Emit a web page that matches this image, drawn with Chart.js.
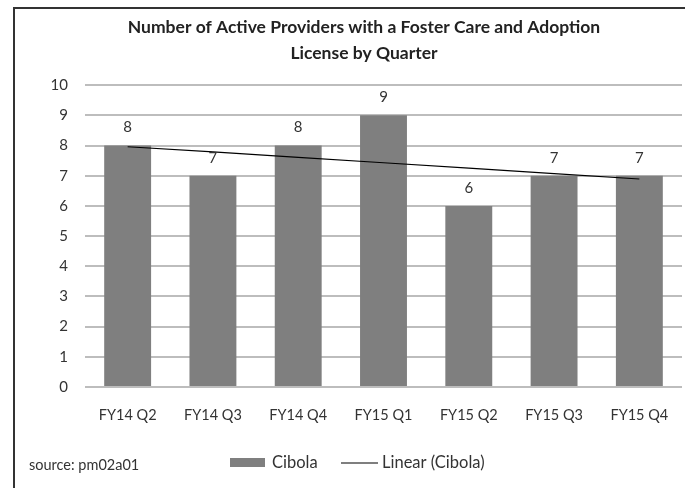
<!DOCTYPE html>
<html>
<head>
<meta charset="utf-8">
<script src="https://cdn.jsdelivr.net/npm/chart.js@4/dist/chart.umd.min.js"></script>
<style>
  html, body { margin: 0; padding: 0; background: #fff; }
  #wrap { width: 685px; height: 488px; position: relative; }
</style>
</head>
<body>
<div id="wrap"><canvas id="grafico" width="685" height="488"></canvas></div>
<script>
// dados
const quarters = ['FY14 Q2', 'FY14 Q3', 'FY14 Q4', 'FY15 Q1', 'FY15 Q2', 'FY15 Q3', 'FY15 Q4'];
const cibola = [8, 7, 8, 9, 6, 7, 7];
const linearCibola = [7.96, 7.79, 7.61, 7.43, 7.25, 7.07, 6.89];
const yTicks = [0, 1, 2, 3, 4, 5, 6, 7, 8, 9, 10];
const titulo = ['Number of Active Providers with a Foster Care and Adoption', 'License by Quarter'];
const fonte = 'source: pm02a01';

const FONT = 'Lato, "Open Sans", sans-serif';
const COR_BARRA = '#7f7f7f';
const COR_TEXTO = '#333333';

// desenha moldura, rotulos das barras e a legenda
const extras = {
  id: 'extras',
  afterDraw(chart) {
    const ctx = chart.ctx;
    const barras = chart.data.datasets[1];
    const linha = chart.data.datasets[0];
    ctx.save();
    // moldura
    ctx.strokeStyle = '#333';
    ctx.lineWidth = 2;
    ctx.beginPath();
    ctx.moveTo(14, 488);
    ctx.lineTo(14, 8);
    ctx.lineTo(685, 8);
    ctx.stroke();

    // rotulos de valor
    const meta = chart.getDatasetMeta(1);
    ctx.fillStyle = COR_TEXTO;
    ctx.font = '15px ' + FONT;
    ctx.textAlign = 'center';
    ctx.textBaseline = 'middle';
    meta.data.forEach((bar, i) => {
      ctx.fillText(String(barras.data[i]), bar.x, bar.y - 18);
    });

    // fonte
    ctx.font = '14.5px ' + FONT;
    ctx.textAlign = 'left';
    ctx.fillText(fonte, 29, 465);

    // legenda
    const yLeg = 463;
    ctx.fillStyle = COR_BARRA;
    ctx.fillRect(230, yLeg - 5, 35, 9);
    ctx.fillStyle = COR_TEXTO;
    ctx.font = '16.5px ' + FONT;
    ctx.fillText(barras.label, 272, yLeg);
    ctx.strokeStyle = '#000';
    ctx.lineWidth = 1.2;
    ctx.beginPath();
    ctx.moveTo(341, yLeg);
    ctx.lineTo(378, yLeg);
    ctx.stroke();
    ctx.fillText(linha.label, 382, yLeg);
    ctx.restore();
  }
};

new Chart(document.getElementById('grafico'), {
  data: {
    labels: quarters,
    datasets: [
      {
        type: 'line',
        label: 'Linear (Cibola)',
        data: linearCibola,
        borderColor: '#000',
        borderWidth: 1.2,
        pointRadius: 0,
        tension: 0,
        order: 0
      },
      {
        type: 'bar',
        label: 'Cibola',
        data: cibola,
        backgroundColor: COR_BARRA,
        categoryPercentage: 0.55,
        barPercentage: 1,
        order: 1
      }
    ]
  },
  options: {
    responsive: false,
    animation: false,
    layout: { padding: { left: 46, right: 3, top: 0, bottom: 0 } },
    plugins: {
      legend: { display: false },
      tooltip: { enabled: false },
      title: {
        display: true,
        text: titulo,
        color: '#222',
        font: { family: FONT, size: 17.5, weight: 'bold', lineHeight: 1.49 },
        padding: { top: 14, bottom: 19 }
      }
    },
    scales: {
      x: {
        grid: { display: false },
        border: { display: false },
        ticks: { color: COR_TEXTO, font: { family: FONT, size: 14.5 }, padding: 12 },
        afterFit: s => { s.height = 101; }
      },
      y: {
        min: 0,
        max: 10,
        afterBuildTicks: s => { s.ticks = yTicks.map(v => ({ value: v })); },
        grid: { color: '#bdbdbd', lineWidth: 2, drawTicks: false },
        border: { display: false },
        ticks: { color: COR_TEXTO, font: { family: FONT, size: 15 }, padding: 17 },
        afterFit: s => { s.width = 39; }
      }
    }
  },
  plugins: [extras]
});
</script>
</body>
</html>
